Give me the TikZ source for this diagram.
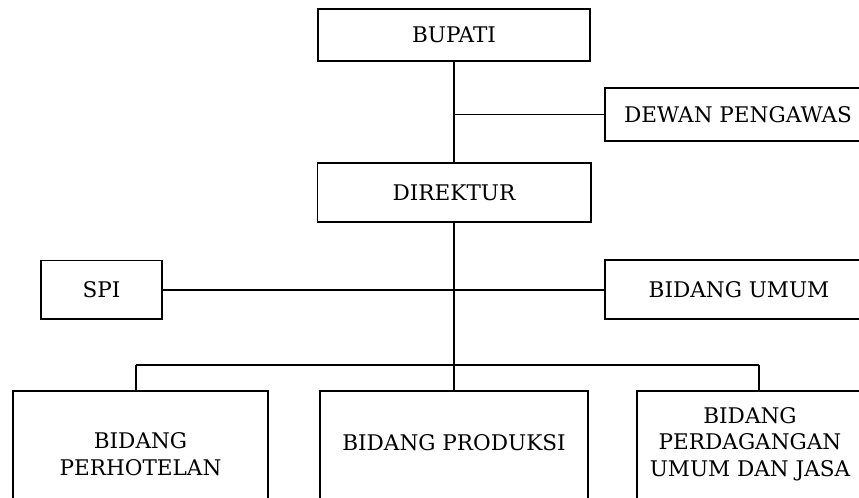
\documentclass[tikz,border=0pt]{standalone}
\usepackage{fontspec}
\setmainfont{DejaVu Serif}
\usepackage{tikz}

\begin{document}
\begin{tikzpicture}[x=0.03cm,y=-0.03cm,line width=1.7pt,
  box/.style={draw,inner sep=0pt,align=center,font=\fontsize{18.4}{22.5}\selectfont},
  lowbox/.style={box,anchor=north,text depth=3.6cm}]
\useasboundingbox (0,0) rectangle (859,497);
\clip (0,0) rectangle (859,497);
\node[box,minimum width=8.16cm,minimum height=1.56cm] (bupati) at (454,35) {BUPATI};
\node[box,minimum width=7.98cm,minimum height=1.59cm] (dewan) at (738,114.5) {DEWAN PENGAWAS};
\node[box,minimum width=8.19cm,minimum height=1.77cm] (direktur) at (454,192.5) {DIREKTUR};
\node[box,minimum width=3.63cm,minimum height=1.74cm] (spi) at (101.5,289.5) {SPI};
\node[box,minimum width=8.04cm,minimum height=1.77cm] (umum) at (739,289.5) {BIDANG UMUM};
\node[lowbox,minimum width=7.65cm,text height=2.52cm] (hotel) at (140.5,390) {BIDANG\\PERHOTELAN};
\node[lowbox,minimum width=8.04cm,text height=1.77cm] (produksi) at (454,390) {BIDANG PRODUKSI};
\node[lowbox,minimum width=6.78cm,text height=2.55cm] (dagang) at (750,390) {BIDANG\\PERDAGANGAN\\UMUM DAN JASA};
\coordinate (busl) at (136,365);
\coordinate (busr) at (759,365);
\draw (bupati.south) -- (direktur.north);
\draw (bupati.south |- dewan.west) -- (dewan.west);
\draw (direktur.south) -- (produksi.north);
\draw (spi.east) -- (umum.west);
\draw (busl) -- (busr);
\draw (busl) -- (busl |- hotel.north);
\draw (busr) -- (busr |- dagang.north);
\end{tikzpicture}
\end{document}
